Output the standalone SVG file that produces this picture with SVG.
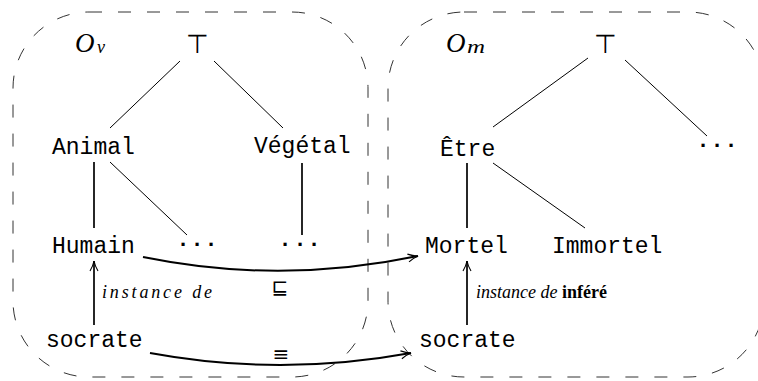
<svg xmlns="http://www.w3.org/2000/svg" width="758" height="381" viewBox="0 0 758 381">
<style>
.box{fill:none;stroke:#333;stroke-width:1;stroke-dasharray:13 16}
.tt{font-family:"Liberation Mono",monospace;font-size:23px;fill:#000}
.thin{stroke:#000;stroke-width:1;fill:none}
.thick{stroke:#000;stroke-width:1.7;fill:none}
.curve{stroke:#000;stroke-width:2;fill:none}
.mi{font-family:"Liberation Serif",serif;font-style:italic;fill:#000}
.sym{font-family:"DejaVu Sans",sans-serif;fill:#000}
.dots{font-family:"Liberation Sans",sans-serif;font-weight:bold;font-size:22px;fill:#000}
</style>
<defs>
<marker id="ah" markerUnits="userSpaceOnUse" orient="auto" markerWidth="14" markerHeight="12" refX="0" refY="0" viewBox="-12 -6 14 12" overflow="visible">
<path d="M-10,-4 Q-5,-1 0,0 Q-5,1 -10,4" fill="none" stroke="#000" stroke-width="1.1"/>
</marker>
</defs>
<g id="box-ov"><rect class="box" x="13" y="12" width="355" height="365" rx="76" ry="76"/>
<text class="mi" x="75" y="52" font-size="27">O</text><text class="mi" x="97" y="53" font-size="18">v</text></g>
<g id="box-om"><rect class="box" x="388" y="12" width="376" height="365" rx="76" ry="76"/>
<text class="mi" x="446" y="52" font-size="27">O</text><text class="mi" x="467" y="53" font-size="18" textLength="18" lengthAdjust="spacingAndGlyphs">m</text></g>
<g id="top-v"><text class="sym" x="197" y="53" font-size="26" text-anchor="middle" font-weight="300">⊤</text></g>
<g id="animal"><text class="tt" x="52" y="154">Animal</text></g>
<g id="vegetal"><text class="tt" x="254" y="153">Végétal</text></g>
<g id="humain"><text class="tt" x="52" y="253">Humain</text></g>
<g id="dots-v1"><text class="dots" x="180 194 208" y="252">···</text></g>
<g id="dots-v2"><text class="dots" x="282 297 311" y="252">···</text></g>
<g id="socrate-v"><text class="tt" x="46" y="347">socrate</text></g>
<g id="top-m"><text class="sym" x="605" y="53" font-size="26" text-anchor="middle" font-weight="300">⊤</text></g>
<g id="etre"><text class="tt" x="440" y="156">Être</text></g>
<g id="dots-m"><text class="dots" x="700 714 728" y="153">···</text></g>
<g id="mortel"><text class="tt" x="425" y="253">Mortel</text></g>
<g id="immortel"><text class="tt" x="552" y="253">Immortel</text></g>
<g id="socrate-m"><text class="tt" x="419" y="347">socrate</text></g>
<g id="connectors">
<line class="thin" x1="180" y1="61" x2="110" y2="128"/>
<line class="thin" x1="214" y1="61" x2="283" y2="128"/>
<line class="thick" x1="94" y1="162" x2="94" y2="228"/>
<line class="thin" x1="110" y1="162" x2="187" y2="235"/>
<line class="thick" x1="302" y1="163" x2="302" y2="235"/>
<line class="thick" x1="94" y1="325" x2="94" y2="261" marker-end="url(#ah)"/>
<line class="thin" x1="588" y1="58" x2="493" y2="127"/>
<line class="thin" x1="625" y1="60" x2="707" y2="136"/>
<line class="thick" x1="467" y1="163" x2="467" y2="228"/>
<line class="thin" x1="493" y1="163" x2="585" y2="228"/>
<line class="thick" x1="467" y1="325" x2="467" y2="261" marker-end="url(#ah)"/>
<path class="curve" d="M143,257 Q280,285 418,256" marker-end="url(#ah)"/>
<path class="curve" d="M150,353 Q280,377 411,353" marker-end="url(#ah)"/>
<text class="mi" x="102" y="298" font-size="18" textLength="110" lengthAdjust="spacing">instance de</text>
<text class="sym" x="280" y="294" font-size="20" text-anchor="middle">⊑</text>
<text class="sym" x="281" y="361" font-size="20" text-anchor="middle">≡</text>
<text x="476" y="298" font-family="Liberation Serif,serif" font-size="18"><tspan font-style="italic">instance de</tspan> <tspan font-weight="bold">inféré</tspan></text>
</g>
</svg>
